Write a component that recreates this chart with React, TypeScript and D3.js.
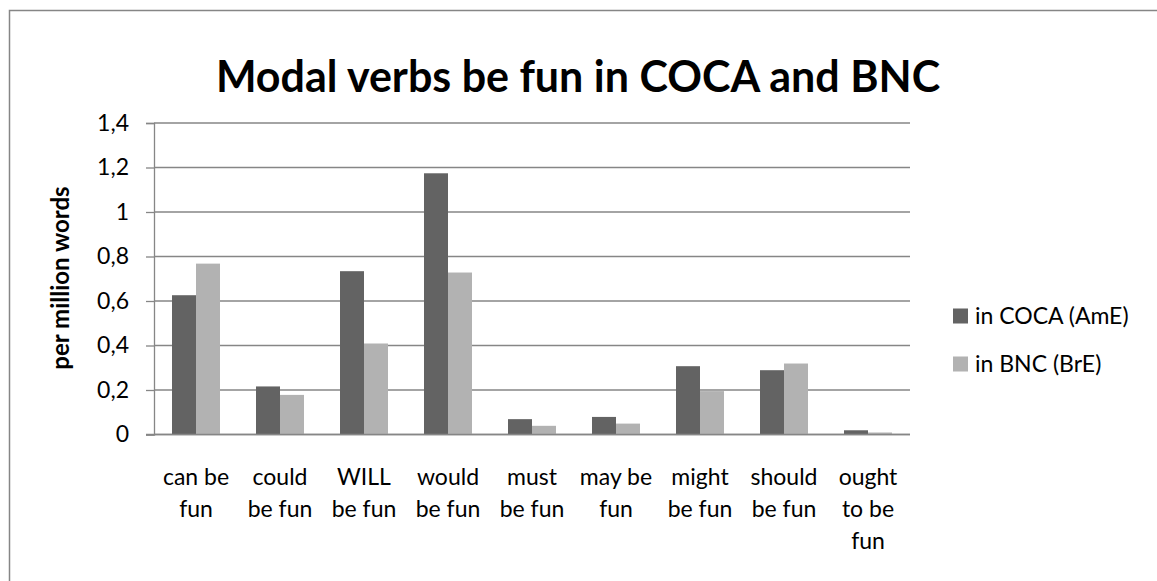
import React, { useEffect, useRef } from 'react';
import * as d3 from 'd3';

const categories = ['can be fun', 'could be fun', 'WILL be fun', 'would be fun', 'must be fun', 'may be fun', 'might be fun', 'should be fun', 'ought to be fun'];
const categoryLines = [['can be', 'fun'], ['could', 'be fun'], ['WILL', 'be fun'], ['would', 'be fun'], ['must', 'be fun'], ['may be', 'fun'], ['might', 'be fun'], ['should', 'be fun'], ['ought', 'to be', 'fun']];
const seriesNames = ['in COCA (AmE)', 'in BNC (BrE)'];
const cocaValues = [0.626, 0.216, 0.734, 1.174, 0.069, 0.079, 0.307, 0.289, 0.019];
const bncValues = [0.768, 0.178, 0.409, 0.728, 0.039, 0.049, 0.195, 0.319, 0.009];
const yTicks = [0, 0.2, 0.4, 0.6, 0.8, 1, 1.2, 1.4];
const seriesColors = ['#636363', '#b2b2b2'];

const FONT = 'Lato, "Open Sans", sans-serif';

const App = () => {
    const svgRef = useRef<SVGSVGElement>(null);

    useEffect(() => {
        const svg = d3.select(svgRef.current);
        svg.selectAll('*').remove();

        const width = 1157, height = 581;
        const plot = { left: 154, right: 910, top: 123, bottom: 434.5 };

        // outer chart border (only top and left fall inside the picture)
        svg.append('rect')
            .attr('x', 9.5).attr('y', 10.5)
            .attr('width', width).attr('height', height)
            .attr('fill', '#fff')
            .attr('stroke', '#868686')
            .attr('stroke-width', 1.5);

        const x = d3.scaleBand().domain(categories).range([plot.left, plot.right]).padding(0);
        const bw = x.bandwidth();
        const gap = bw * 1.5 / 3.5 / 2;
        const x1 = d3.scaleBand().domain(seriesNames).range([gap, bw - gap]).padding(0);
        const y = d3.scaleLinear().domain([0, 1.4]).range([plot.bottom, plot.top]);

        const locale = d3.formatLocale({ decimal: ',', thousands: '.', grouping: [3], currency: ['', ''] });
        const fmt = locale.format('.1~f');

        // gridlines
        svg.append('g')
            .selectAll('line')
            .data(yTicks)
            .enter()
            .append('line')
            .attr('x1', plot.left).attr('x2', plot.right)
            .attr('y1', (d) => y(d)).attr('y2', (d) => y(d))
            .attr('stroke', '#868686')
            .attr('stroke-width', 1.3);

        // y axis
        const yAxis = d3.axisLeft(y).tickValues(yTicks).tickSize(8).tickPadding(17).tickFormat((d) => fmt(+d));
        const ag = svg.append('g')
            .attr('transform', `translate(${plot.left},0)`)
            .call(yAxis);
        ag.select('.domain').attr('stroke', '#868686').attr('stroke-width', 1.3);
        ag.selectAll('.tick line').attr('stroke', '#868686').attr('stroke-width', 1.3);
        ag.selectAll('.tick text')
            .attr('font-family', FONT)
            .attr('font-size', 23)
            .attr('fill', '#000');

        // bars
        const data = categories.map((c, i) => ({ cat: c, values: [cocaValues[i], bncValues[i]] }));
        const groups = svg.append('g')
            .selectAll('g')
            .data(data)
            .enter()
            .append('g')
            .attr('transform', (d) => `translate(${x(d.cat)},0)`);

        groups.selectAll('rect')
            .data((d) => d.values.map((v, j) => ({ name: seriesNames[j], value: v, idx: j })))
            .enter()
            .append('rect')
            .attr('x', (d) => x1(d.name))
            .attr('width', x1.bandwidth())
            .attr('y', (d) => y(d.value))
            .attr('height', (d) => plot.bottom - y(d.value))
            .attr('fill', (d) => seriesColors[d.idx]);

        // baseline redrawn above the bars
        svg.append('line')
            .attr('x1', plot.left - 8).attr('x2', plot.right)
            .attr('y1', y(0)).attr('y2', y(0))
            .attr('stroke', '#868686')
            .attr('stroke-width', 1.3);

        // category labels
        categoryLines.forEach((lines, i) => {
            const cx = x(categories[i]) + bw / 2;
            const t = svg.append('text')
                .attr('text-anchor', 'middle')
                .attr('font-family', FONT)
                .attr('font-size', 23)
                .attr('fill', '#000');
            lines.forEach((ln, k) => {
                t.append('tspan').attr('x', cx).attr('y', 485 + k * 32).text(ln);
            });
        });

        // title
        svg.append('text')
            .attr('x', 578).attr('y', 92)
            .attr('text-anchor', 'middle')
            .attr('font-family', FONT)
            .attr('font-weight', 'bold')
            .attr('font-size', 43)
            .attr('fill', '#000')
            .text('Modal verbs be fun in COCA and BNC');

        // y axis title
        svg.append('text')
            .attr('transform', 'translate(69,278) rotate(-90)')
            .attr('text-anchor', 'middle')
            .attr('font-family', FONT)
            .attr('font-weight', 'bold')
            .attr('font-size', 24)
            .attr('fill', '#000')
            .text('per million words');

        // legend
        seriesNames.forEach((name, j) => {
            const cy = 316 + j * 48;
            svg.append('rect')
                .attr('x', 953).attr('y', cy - 7.5)
                .attr('width', 15).attr('height', 15)
                .attr('fill', seriesColors[j]);
            svg.append('text')
                .attr('x', 975).attr('y', cy)
                .attr('dy', '0.35em')
                .attr('font-family', FONT)
                .attr('font-size', 23)
                .attr('fill', '#000')
                .text(name);
        });
    }, []);

    return (
        <svg ref={svgRef} width={1157} height={581} style={{ position: 'absolute', left: 0, top: 0, background: '#fff' }}></svg>
    );
};

export default App;
